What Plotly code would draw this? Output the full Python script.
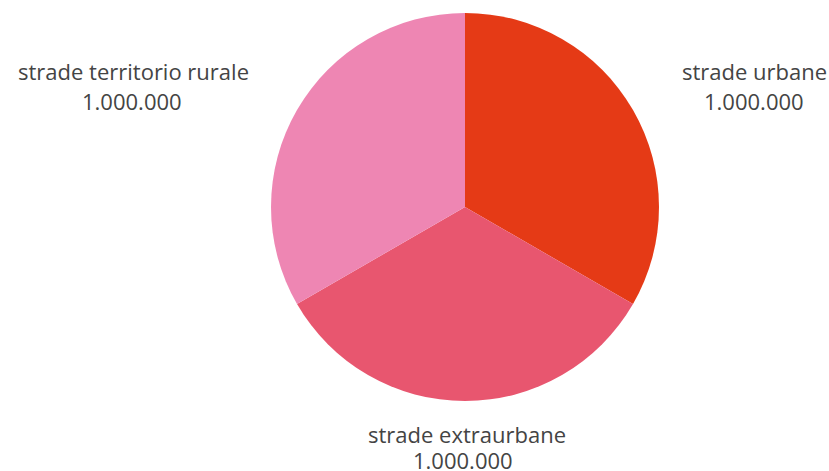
import plotly.graph_objects as go

categories = ["strade urbane", "strade extraurbane", "strade territorio rurale"]
values = [1000000, 1000000, 1000000]
value_labels = ["1.000.000", "1.000.000", "1.000.000"]
colors = ["#E53A16", "#E8566F", "#EE86B3"]

W, H = 829, 471

fig = go.Figure(go.Pie(
    labels=categories,
    values=values,
    marker=dict(colors=colors, line=dict(width=0)),
    sort=False,
    direction="clockwise",
    rotation=0,
    textinfo="none",
    hoverinfo="label+value",
    showlegend=False,
    domain=dict(x=[270 / W, 660 / W], y=[1 - 401 / H, 1 - 13 / H]),
))

# (x center name, y center name, x center value, y center value) in pixels
label_pos = [(754, 71, 754, 101), (467, 434, 463, 460), (133, 71, 132, 101)]
font = dict(family="Open Sans, sans-serif", size=22, color="#444444")
for cat, vl, (nx, ny, vx, vy) in zip(categories, value_labels, label_pos):
    fig.add_annotation(x=nx / W, y=1 - ny / H, xref="paper", yref="paper",
                       text=cat, showarrow=False, font=font,
                       xanchor="center", yanchor="middle")
    fig.add_annotation(x=vx / W, y=1 - vy / H, xref="paper", yref="paper",
                       text=vl, showarrow=False, font=font,
                       xanchor="center", yanchor="middle")

fig.update_layout(
    width=W, height=H,
    margin=dict(l=0, r=0, t=0, b=0),
    paper_bgcolor="white", plot_bgcolor="white",
)
fig.write_html(
    "out.html",
    config={"displayModeBar": False},
    post_script="document.body.style.margin='0';document.body.style.overflow='hidden';",
)
